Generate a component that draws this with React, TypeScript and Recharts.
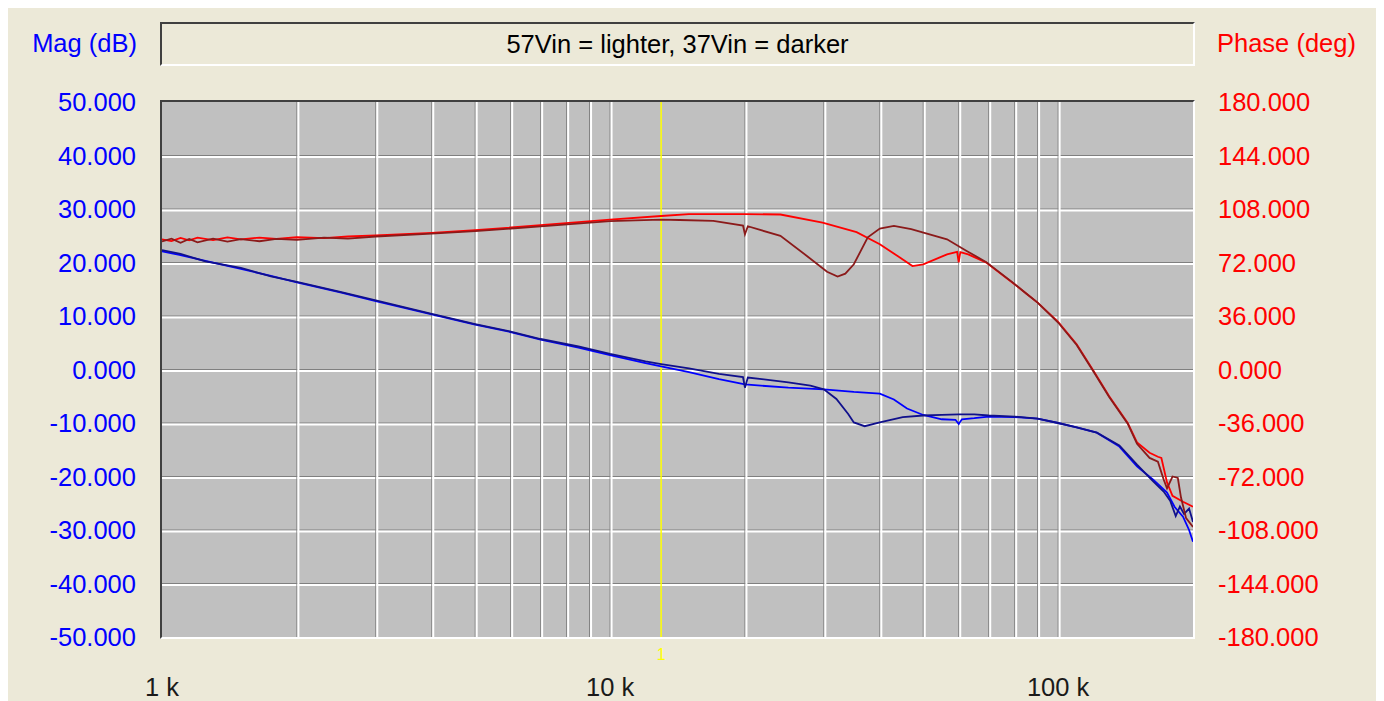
import React from 'react';
import { LineChart, Line, XAxis, YAxis, CartesianGrid, ReferenceLine } from 'recharts';

// [frequency Hz, value]
const magLight: [number, number][] = [
  [1000, 22.1], [1100, 21.4], [1250, 20.3], [1500, 18.8], [1750, 17.5], [2000, 16.3],
  [2500, 14.4], [3000, 12.8], [4000, 10.3], [5000, 8.4], [6000, 7.0], [7000, 5.6],
  [8500, 4.1], [10000, 2.7], [12000, 1.2], [13000, 0.6], [15000, -0.5], [17500, -1.8],
  [20000, -2.8], [25000, -3.4], [30000, -3.7], [35000, -4.2], [40000, -4.5], [43000, -5.6],
  [46000, -7.3], [50000, -8.5], [55000, -9.3], [59000, -9.4], [60000, -10.2], [61000, -9.3],
  [65000, -9.1], [70000, -8.8], [80000, -8.9], [90000, -9.2], [100000, -10.0], [110000, -10.8],
  [122000, -11.8], [137000, -14.4], [150000, -18.1], [163000, -20.6], [175000, -23.0],
  [182000, -25.7], [190000, -27.5], [196000, -30.0], [200000, -32.2],
];

const magDark: [number, number][] = [
  [1000, 22.3], [1100, 21.6], [1250, 20.2], [1500, 19.0], [1750, 17.4], [2000, 16.4],
  [2500, 14.5], [3000, 12.9], [4000, 10.4], [5000, 8.5], [6000, 7.1], [7000, 5.7],
  [8500, 4.3], [10000, 2.9], [12000, 1.5], [13000, 1.0], [15000, 0.2], [17500, -0.8],
  [19800, -1.4], [20000, -3.4], [20300, -1.5], [25000, -2.4], [28000, -3.0], [30000, -3.7],
  [32000, -5.5], [34000, -8.3], [35000, -9.9], [37000, -10.6], [40000, -9.9], [45000, -8.9],
  [50000, -8.6], [55000, -8.5], [60000, -8.4], [65000, -8.4], [70000, -8.6], [80000, -8.8],
  [90000, -9.2], [100000, -10.0], [110000, -10.8], [122000, -11.8], [137000, -14.2],
  [150000, -17.8], [163000, -20.9], [172000, -22.8], [178000, -24.6], [183000, -27.4],
  [187000, -25.6], [191000, -27.0], [196000, -26.0], [200000, -28.5],
];

const phaseLight: [number, number][] = [
  [1000, 87.6], [1050, 86.4], [1100, 88.5], [1150, 86.9], [1200, 88.7], [1300, 87.0],
  [1400, 88.9], [1500, 87.6], [1650, 88.8], [1800, 87.9], [2000, 89.0], [2300, 88.4],
  [2600, 89.5], [3000, 90.3], [4000, 92.0], [5000, 93.7], [7000, 97.1], [10000, 100.8],
  [13000, 103.3], [15000, 104.5], [20000, 104.6], [24000, 104.3], [29800, 98.9],
  [35500, 92.4], [40000, 84.3], [44000, 76.0], [47300, 69.6], [50000, 70.8], [56500, 77.5],
  [59500, 79.1], [60000, 72.1], [60500, 79.0], [63000, 77.5], [69000, 72.1], [79000, 58.6],
  [85000, 51.0], [90000, 45.0], [100000, 32.0], [110000, 17.0], [120000, -1.0],
  [130000, -18.0], [143000, -36.0], [150000, -49.0], [160000, -56.0], [167000, -58.7],
  [170000, -59.5], [175000, -76.0], [180000, -85.0], [190000, -89.0], [200000, -92.4],
];

const phaseDark: [number, number][] = [
  [1000, 86.2], [1050, 88.0], [1100, 85.3], [1150, 87.8], [1200, 85.6], [1300, 88.1],
  [1400, 86.0], [1500, 87.7], [1650, 86.3], [1800, 87.9], [2000, 87.2], [2300, 88.8],
  [2600, 88.0], [3000, 89.5], [4000, 91.4], [5000, 93.1], [7000, 96.3], [10000, 99.8],
  [13000, 100.8], [14300, 100.6], [17000, 100.0], [19800, 96.8], [20000, 91.0],
  [20300, 96.4], [24000, 89.9], [27500, 76.4], [30500, 65.8], [32200, 62.5], [33500, 64.5],
  [35000, 70.8], [37600, 89.0], [40000, 94.8], [43000, 96.6], [47000, 94.4], [56500, 87.6],
  [62500, 79.8], [69000, 72.4], [79000, 58.8], [85000, 51.0], [90000, 45.0], [100000, 31.6],
  [110000, 16.5], [120000, -1.5], [130000, -18.5], [143000, -36.5], [150000, -50.0],
  [160000, -59.5], [167000, -62.0], [172000, -74.0], [175000, -80.0], [180000, -72.0],
  [185000, -73.0], [188000, -86.0], [193000, -100.0], [200000, -106.0],
];

const freqTicks = [
  1000, 2000, 3000, 4000, 5000, 6000, 7000, 8000, 9000,
  10000, 20000, 30000, 40000, 50000, 60000, 70000, 80000, 90000,
  100000, 200000,
];
const decadeLabels: Record<number, string> = { 1000: '1 k', 10000: '10 k', 100000: '100 k' };
const magTicks = [-50, -40, -30, -20, -10, 0, 10, 20, 30, 40, 50];
const phaseTicks = [-180, -144, -108, -72, -36, 0, 36, 72, 108, 144, 180];
const markerFreq = 13000;

const FONT = '"Liberation Sans", Arial, sans-serif';
const BG = '#ECE9D8';

const toRows = (pts: [number, number][]) => pts.map(([f, v]) => ({ f, v }));

// grid line drawn as a gray line with a white highlight next to it
const bevel = (count: number) => (props: any) => {
  const { x1, y1, x2, y2, index } = props;
  if (index === 0 || index === count - 1) return <g key={`g-${index}`} />;
  const vert = x1 === x2;
  const dx = vert ? 1.5 : 0;
  const dy = vert ? 0 : 1.5;
  return (
    <g key={`g-${index}`}>
      <line x1={x1} y1={y1} x2={x2} y2={y2} stroke="#808080" strokeWidth={1} />
      <line x1={x1 + dx} y1={y1 + dy} x2={x2 + dx} y2={y2 + dy} stroke="#FFFFFF" strokeWidth={2} />
    </g>
  );
};

const MagTick = (props: any) => {
  const { x, y, payload } = props;
  return (
    <text x={x} y={y} textAnchor="end" dominantBaseline="central" fill="#0000FF" fontSize={25.5} fontFamily={FONT}>
      {Number(payload.value).toFixed(3)}
    </text>
  );
};

const PhaseTick = (props: any) => {
  const { x, y, payload } = props;
  return (
    <text x={x} y={y} textAnchor="start" dominantBaseline="central" fill="#FF0000" fontSize={25.5} fontFamily={FONT}>
      {Number(payload.value).toFixed(3)}
    </text>
  );
};

const FreqTick = (props: any) => {
  const { x, y, payload } = props;
  const label = decadeLabels[payload.value];
  if (!label) return <g />;
  return (
    <text x={x} y={y + 50} textAnchor="middle" dominantBaseline="central" fill="#1A1A1A" fontSize={25.5} fontFamily={FONT}>
      {label}
    </text>
  );
};

export default function App() {
  return (
    <div
      style={{
        position: 'relative',
        width: 1373,
        height: 693,
        marginTop: -1,
        borderTop: '1px solid #000',
        background: BG,
        fontFamily: FONT,
      }}
    >
      <div style={{ position: 'absolute', left: 24, top: 18, width: 105, textAlign: 'right', fontSize: 25.5, color: '#0000FF', lineHeight: '34px', whiteSpace: 'nowrap' }}>
        Mag (dB)
      </div>
      <div style={{ position: 'absolute', left: 1209, top: 18, fontSize: 25.5, color: '#FF0000', lineHeight: '34px', whiteSpace: 'nowrap' }}>
        Phase (deg)
      </div>
      <div
        style={{
          position: 'absolute',
          left: 152,
          top: 14,
          width: 1031,
          height: 40,
          borderTop: '2px solid #404040',
          borderLeft: '2px solid #404040',
          borderBottom: '2px solid #FFFFFF',
          borderRight: '2px solid #FFFFFF',
          textAlign: 'center',
          lineHeight: '40px',
          fontSize: 25.5,
          color: '#000',
        }}
      >
        57Vin = lighter, 37Vin = darker
      </div>

      <LineChart width={1373} height={693} margin={{ top: 94, right: 0, bottom: 0, left: 0 }}>
        <CartesianGrid
          yAxisId="mag"
          fill="#C0C0C0"
          horizontal={bevel(magTicks.length)}
          vertical={bevel(freqTicks.length)}
        />
        <XAxis
          dataKey="f"
          type="number"
          scale="log"
          domain={[1000, 200000]}
          allowDataOverflow
          ticks={freqTicks}
          interval={0}
          tick={<FreqTick />}
          tickLine={false}
          axisLine={false}
          tickSize={0}
          tickMargin={0}
          height={64}
        />
        <YAxis
          yAxisId="mag"
          domain={[-50, 50]}
          ticks={magTicks}
          interval={0}
          tick={<MagTick />}
          tickLine={false}
          axisLine={false}
          tickSize={0}
          tickMargin={26}
          width={154}
          allowDataOverflow
        />
        <YAxis
          yAxisId="phase"
          orientation="right"
          domain={[-180, 180]}
          ticks={phaseTicks}
          interval={0}
          tick={<PhaseTick />}
          tickLine={false}
          axisLine={false}
          tickSize={0}
          tickMargin={25}
          width={188}
          allowDataOverflow
        />
        <ReferenceLine
          yAxisId="mag"
          x={markerFreq}
          stroke="#FFFF00"
          strokeWidth={1.5}
          label={{ value: '1', position: 'bottom', fill: '#FFFF00', fontSize: 16, offset: 12, fontFamily: FONT }}
        />
        <Line yAxisId="mag" data={toRows(magLight)} dataKey="v" type="linear" stroke="#0000FF" strokeWidth={1.8} dot={false} isAnimationActive={false} />
        <Line yAxisId="mag" data={toRows(magDark)} dataKey="v" type="linear" stroke="#10108C" strokeWidth={1.8} dot={false} isAnimationActive={false} />
        <Line yAxisId="phase" data={toRows(phaseLight)} dataKey="v" type="linear" stroke="#FF0000" strokeWidth={1.8} dot={false} isAnimationActive={false} />
        <Line yAxisId="phase" data={toRows(phaseDark)} dataKey="v" type="linear" stroke="#8B1A1A" strokeWidth={1.8} dot={false} isAnimationActive={false} />
      </LineChart>

      <div
        style={{
          position: 'absolute',
          left: 152,
          top: 92,
          width: 1031,
          height: 535,
          borderTop: '2px solid #404040',
          borderLeft: '2px solid #404040',
          borderBottom: '2px solid #FFFFFF',
          borderRight: '2px solid #FFFFFF',
          pointerEvents: 'none',
        }}
      />
    </div>
  );
}
